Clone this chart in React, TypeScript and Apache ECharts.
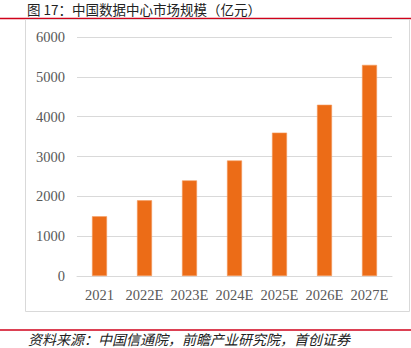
import React, { useEffect, useRef } from "react";
import * as echarts from "echarts";

const categories = ["2021", "2022E", "2023E", "2024E", "2025E", "2026E", "2027E"];
const values = [1500, 1900, 2400, 2900, 3600, 4300, 5300];
const titleText = "图 17：中国数据中心市场规模（亿元）";
const sourceText = "资料来源：中国信通院，前瞻产业研究院，首创证券";

export default function App() {
  const ref = useRef<HTMLDivElement>(null);
  useEffect(() => {
    document.body.style.margin = "0";
    const chart = echarts.init(ref.current!, null, { renderer: "svg" });
    chart.setOption({
      animation: false,
      backgroundColor: "#ffffff",
      grid: { left: 77, right: 19, top: 37, bottom: 72 },
      xAxis: {
        type: "category",
        data: categories,
        axisLine: { lineStyle: { color: "#D9D9D9", width: 1 } },
        axisTick: { show: false },
        axisLabel: {
          interval: 0,
          color: "#595959",
          fontFamily: "Liberation Serif",
          fontSize: 14.5,
          margin: 11,
        },
      },
      yAxis: {
        type: "value",
        min: 0,
        max: 6000,
        interval: 1000,
        axisLine: { show: false },
        axisTick: { show: false },
        splitLine: { lineStyle: { color: "#D9D9D9", width: 1 } },
        axisLabel: {
          color: "#595959",
          fontFamily: "Liberation Serif",
          fontSize: 14.5,
          margin: 12,
          formatter: (v: number) => String(v),
        },
      },
      series: [
        {
          type: "bar",
          data: values,
          barWidth: 15,
          itemStyle: { color: "#EC6C17", borderColor: "#F39A5E", borderWidth: 0.6 },
        },
      ],
      graphic: [
        {
          type: "text",
          left: 27,
          top: 2,
          style: {
            text: titleText,
            fontFamily: "Noto Sans CJK SC",
            fontSize: 13.5,
            fill: "#222222",
          },
        },
        {
          type: "line",
          shape: { x1: 0, y1: 18.5, x2: 411, y2: 18.5 },
          style: { stroke: "#D0021B", lineWidth: 1.5 },
        },
        {
          type: "rect",
          shape: { x: 25.5, y: 19.5, width: 384, height: 292 },
          style: { fill: "none", stroke: "#D9D9D9", lineWidth: 1 },
        },
        {
          type: "line",
          shape: { x1: 0, y1: 330, x2: 411, y2: 330 },
          style: { stroke: "#D0021B", lineWidth: 1.5 },
        },
        {
          type: "text",
          left: 28,
          top: 332,
          style: {
            text: sourceText,
            fontFamily: "Noto Sans CJK SC",
            fontStyle: "italic",
            fontSize: 14,
            fill: "#222222",
          },
        },
      ],
    });
    return () => chart.dispose();
  }, []);
  return <div ref={ref} style={{ width: 411, height: 348 }} />;
}
